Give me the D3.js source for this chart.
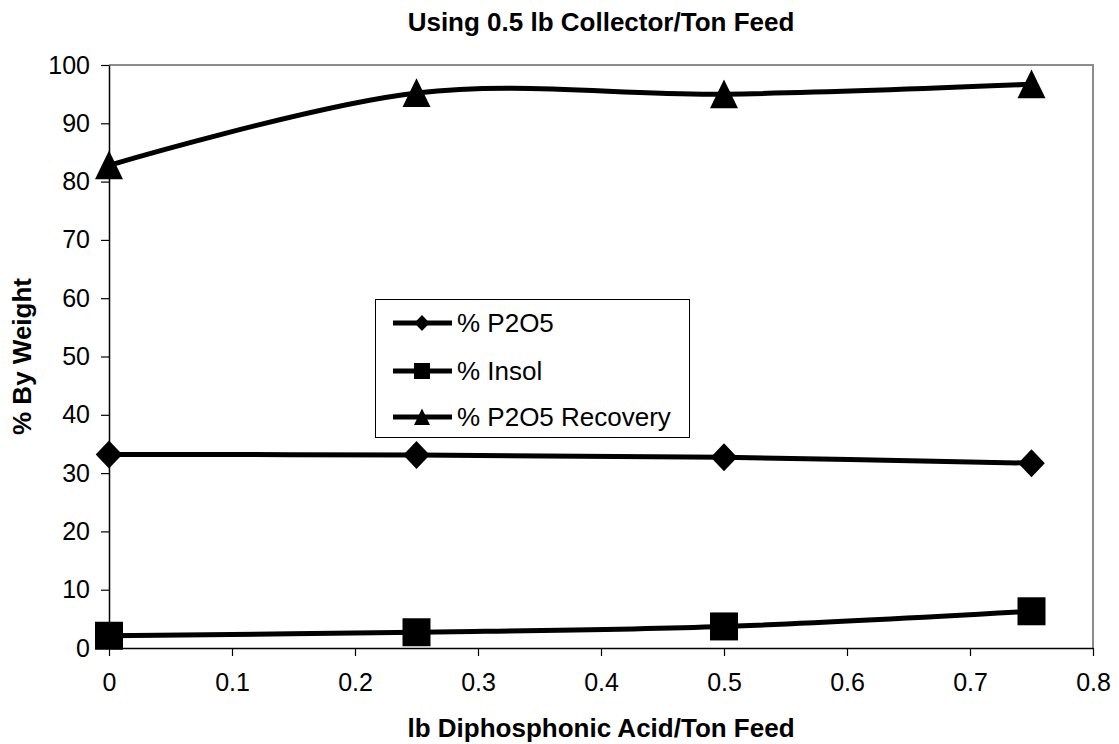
<!DOCTYPE html>
<html>
<head>
<meta charset="utf-8">
<script src="https://cdn.jsdelivr.net/npm/d3@7"></script>
<style>
  html, body { margin: 0; padding: 0; background: #fff; }
  svg { display: block; font-family: "Liberation Sans", Arial, sans-serif; }
</style>
</head>
<body>
<svg id="chart" width="1119" height="744"></svg>
<script>
// Dosage of diphosphonic acid (lb / ton feed)
const dosage = [0, 0.25, 0.5, 0.75];

// Series values (% by weight)
const p2o5 = [33.2, 33.1, 32.7, 31.7];
const insol = [2.1, 2.7, 3.7, 6.3];
const recovery = [82.8, 95.2, 95.0, 96.7];

const seriesNames = ["% P2O5", "% Insol", "% P2O5 Recovery"];
const seriesSymbols = ["diamond", "square", "triangle"];

const xTicks = [0, 0.1, 0.2, 0.3, 0.4, 0.5, 0.6, 0.7, 0.8];
const yTicks = [0, 10, 20, 30, 40, 50, 60, 70, 80, 90, 100];

const title = "Using 0.5 lb Collector/Ton Feed";
const xTitle = "lb Diphosphonic Acid/Ton Feed";
const yTitle = "% By Weight";

const svg = d3.select("#chart");
const plot = { left: 109, right: 1093, top: 65, bottom: 648 };

const x = d3.scaleLinear().domain([0, 0.8]).range([plot.left, plot.right]);
const y = d3.scaleLinear().domain([0, 100]).range([plot.bottom, plot.top]);

// Plot frame: grey top/right edges
svg.append("path")
  .attr("d", `M${plot.left},${plot.top}H${plot.right}V${plot.bottom}`)
  .attr("fill", "none").attr("stroke", "#8c8c8c").attr("stroke-width", 2);

// Axes
const xAxis = d3.axisBottom(x).tickValues(xTicks).tickSizeOuter(0).tickSizeInner(8).tickPadding(17)
  .tickFormat(d => d === 0 ? "0" : d3.format(".1f")(d));
const yAxis = d3.axisLeft(y).tickValues(yTicks).tickSizeOuter(0).tickSizeInner(8).tickPadding(11)
  .tickFormat(d3.format("d"));

const gx = svg.append("g").attr("transform", `translate(0,${plot.bottom})`).call(xAxis);
const gy = svg.append("g").attr("transform", `translate(${plot.left},0)`).call(yAxis);
[gx, gy].forEach(g => {
  g.attr("font-size", 25).attr("font-family", "Liberation Sans, Arial, sans-serif");
  g.select(".domain").attr("stroke", "#000").attr("stroke-width", 1.5);
  g.selectAll(".tick line").attr("stroke", "#000").attr("stroke-width", 1.2);
  g.selectAll(".tick text").attr("fill", "#000");
});

// Symbol shapes
function symbolPath(kind, s) {
  if (kind === "diamond") return `M0,${-s}L${s * 0.95},0L0,${s}L${-s * 0.95},0Z`;
  if (kind === "square") return `M${-s},${-s}H${s}V${s}H${-s}Z`;
  return `M0,${-s * 1.05}L${s},${s * 1.0}H${-s}Z`;
}

// Smoothed series lines
const line = d3.line()
  .x(d => x(d[0])).y(d => y(d[1]))
  .curve(d3.curveCardinal.tension(0));

const allSeries = [p2o5, insol, recovery];

allSeries.forEach((vals, i) => {
  const pts = dosage.map((d, j) => [d, vals[j]]);
  svg.append("path").datum(pts)
    .attr("d", line)
    .attr("fill", "none").attr("stroke", "#000").attr("stroke-width", 5)
    .attr("stroke-linejoin", "round");
  svg.append("g").selectAll("path").data(pts).join("path")
    .attr("transform", d => `translate(${x(d[0])},${y(d[1])})`)
    .attr("d", symbolPath(seriesSymbols[i], 14))
    .attr("fill", "#000");
});

// Legend
const legend = svg.append("g");
legend.append("rect")
  .attr("x", 375.5).attr("y", 299.5).attr("width", 314).attr("height", 138)
  .attr("fill", "#fff").attr("stroke", "#000").attr("stroke-width", 1);
const rowY = [323, 371, 417];
seriesNames.forEach((name, i) => {
  const g = legend.append("g").attr("transform", `translate(0,${rowY[i]})`);
  g.append("line").attr("x1", 393).attr("x2", 452).attr("y1", 0).attr("y2", 0)
    .attr("stroke", "#000").attr("stroke-width", 5);
  g.append("path").attr("transform", "translate(422,0)")
    .attr("d", symbolPath(seriesSymbols[i], 8)).attr("fill", "#000");
  g.append("text").attr("x", 457).attr("y", 0).attr("dy", "0.35em")
    .attr("font-size", 26).attr("fill", "#000").text(name);
});

// Titles
svg.append("text").attr("x", (plot.left + plot.right) / 2).attr("y", 31)
  .attr("text-anchor", "middle").attr("font-size", 26).attr("font-weight", "bold")
  .text(title);
svg.append("text").attr("x", (plot.left + plot.right) / 2).attr("y", 737)
  .attr("text-anchor", "middle").attr("font-size", 26).attr("font-weight", "bold")
  .text(xTitle);
svg.append("text").attr("transform", `translate(31,${(plot.top + plot.bottom) / 2}) rotate(-90)`)
  .attr("text-anchor", "middle").attr("font-size", 26).attr("font-weight", "bold")
  .text(yTitle);
</script>
</body>
</html>
